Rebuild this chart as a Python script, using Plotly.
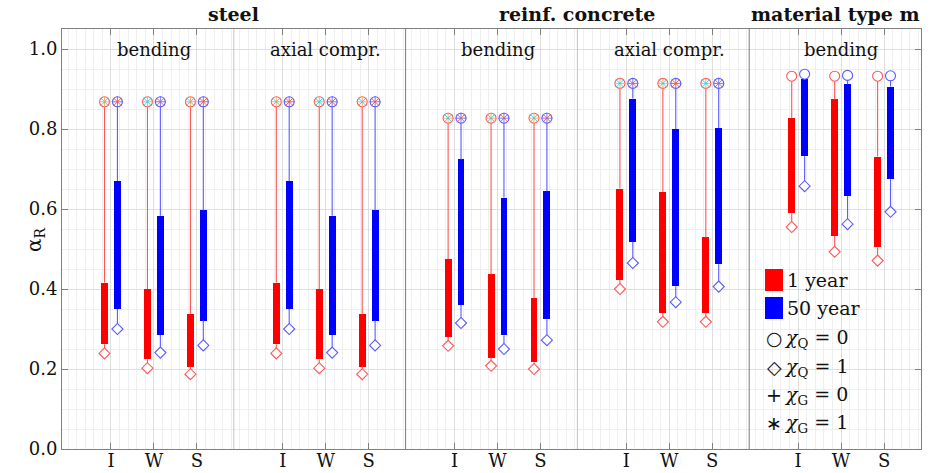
import plotly.graph_objects as go

# ---------------- data ----------------
categories = ["I", "W", "S"]
panels = ["bending", "axial compr.", "bending", "axial compr.", "bending"]
materials = ["steel", "reinf. concrete", "material type m"]
material_panels = [[0, 1], [2, 3], [4]]

# 1 year (red): chi_Q = 1 (diamond), box low, box high, chi_Q = 0 (circle)
r_q1 = [0.239, 0.202, 0.187, 0.239, 0.202, 0.187, 0.258, 0.208, 0.200,
        0.400, 0.318, 0.318, 0.555, 0.493, 0.471]
r_lo = [0.262, 0.224, 0.206, 0.262, 0.224, 0.206, 0.280, 0.228, 0.217,
        0.423, 0.340, 0.340, 0.589, 0.533, 0.504]
r_hi = [0.416, 0.400, 0.338, 0.416, 0.400, 0.338, 0.475, 0.437, 0.377,
        0.651, 0.643, 0.529, 0.827, 0.874, 0.731]
r_q0 = [0.868, 0.868, 0.868, 0.868, 0.868, 0.868, 0.827, 0.827, 0.827,
        0.914, 0.914, 0.914, 0.932, 0.932, 0.932]

# 50 year (blue)
b_q1 = [0.300, 0.241, 0.259, 0.300, 0.241, 0.259, 0.315, 0.250, 0.272,
        0.465, 0.367, 0.406, 0.657, 0.562, 0.593]
b_lo = [0.350, 0.285, 0.321, 0.350, 0.285, 0.321, 0.360, 0.284, 0.324,
        0.518, 0.407, 0.462, 0.732, 0.632, 0.674]
b_hi = [0.670, 0.583, 0.597, 0.670, 0.583, 0.597, 0.724, 0.628, 0.645,
        0.876, 0.800, 0.802, 0.924, 0.912, 0.906]
b_q0 = [0.868, 0.868, 0.868, 0.868, 0.868, 0.868, 0.827, 0.827, 0.827,
        0.914, 0.914, 0.914, 0.937, 0.934, 0.933]

# chi_G = 1 coincides with chi_Q = 0 in these panels
g1_panels = [0, 1, 2, 3]

# ---------------- layout helpers ----------------
GW = 4.0          # width of one panel in x units
XMIN = -1.14
XMAX = XMIN + GW * len(panels)
OFF = 0.15
BW = 0.16
FONT = "DejaVu Serif"

tick_x = [GW * p + c for p in range(len(panels)) for c in range(len(categories))]
tick_t = [categories[c] for p in range(len(panels)) for c in range(len(categories))]

RED = "#ff0000"
BLUE = "#0000ff"
RED_L = "rgb(255,85,85)"
BLUE_L = "rgb(90,90,255)"

fig = go.Figure()


def add_series(xs, q1, lo, hi, q0, col, col_l, name):
    fig.add_trace(go.Bar(x=xs, y=[h - l for h, l in zip(hi, lo)], base=lo,
                         width=BW, marker=dict(color=col, line=dict(width=0)),
                         name=name, showlegend=False))
    wx, wy = [], []
    for x, a, b, c, d in zip(xs, q1, lo, hi, q0):
        wx += [x, x, None, x, x, None]
        wy += [a, b, None, c, d, None]
    fig.add_trace(go.Scatter(x=wx, y=wy, mode="lines",
                             line=dict(color=col_l, width=1.1),
                             showlegend=False, hoverinfo="skip"))
    fig.add_trace(go.Scatter(x=xs, y=q1, mode="markers",
                             marker=dict(symbol="diamond", size=8.5, color="white",
                                         line=dict(color=col_l, width=1.1)),
                             showlegend=False))
    fig.add_trace(go.Scatter(x=xs, y=q0, mode="markers",
                             marker=dict(symbol="circle", size=10, color="white",
                                         line=dict(color=col_l, width=1.1)),
                             showlegend=False))
    ax = [x for i, x in enumerate(xs) if i // 3 in g1_panels]
    ay = [v for i, v in enumerate(q0) if i // 3 in g1_panels]
    for sym in ("cross-thin-open", "x-thin-open"):
        fig.add_trace(go.Scatter(x=ax, y=ay, mode="markers",
                                 marker=dict(symbol=sym, size=8,
                                             line=dict(color=col_l, width=0.9)),
                                 showlegend=False, hoverinfo="skip"))


add_series([x - OFF for x in tick_x], r_q1, r_lo, r_hi, r_q0, RED, RED_L, "1 year")
add_series([x + OFF for x in tick_x], b_q1, b_lo, b_hi, b_q0, BLUE, BLUE_L, "50 year")

# ---------------- separators ----------------
shapes = []
for p in range(1, len(panels)):
    xs = XMIN + GW * p
    major = any(p == mp[0] for mp in material_panels)
    shapes.append(dict(type="line", xref="x", yref="paper", x0=xs, x1=xs, y0=0, y1=1,
                       line=dict(color="#7a7a7a" if major else "#c4c4c4", width=1)))

# ---------------- annotations ----------------
ann = []
for p, label in enumerate(panels):
    ann.append(dict(x=GW * p + 1, y=1.0, xref="x", yref="y", text=label,
                    showarrow=False, font=dict(family=FONT, size=18, color="#111"),
                    yanchor="middle"))
for m, plist in zip(materials, material_panels):
    x0 = XMIN + GW * plist[0]
    x1 = XMIN + GW * (plist[-1] + 1)
    ann.append(dict(x=(x0 + x1) / 2, y=1, xref="x", yref="paper", yshift=15,
                    text="<b>" + m + "</b>", showarrow=False, yanchor="middle",
                    font=dict(family=FONT, size=19, color="#111")))

# y axis title
ann.append(dict(x=-0.049, y=0.5, xref="paper", yref="paper", text="α<sub>R</sub>",
                textangle=-90, showarrow=False,
                font=dict(family=FONT, size=20, color="#111")))

# ---------------- manual legend ----------------
PW, PH = 859.0, 420.0


def px(xp):
    return (xp - 62) / PW


def py(yp):
    return (449 - yp) / PH


leg_items = [("sq", RED, "1 year", 280), ("sq", BLUE, "50 year", 308)]
for kind, col, txt, yc in leg_items:
    shapes.append(dict(type="rect", xref="paper", yref="paper",
                       x0=px(765), x1=px(783), y0=py(yc + 11), y1=py(yc - 11),
                       fillcolor=col, line=dict(color=col, width=0)))
    ann.append(dict(x=px(785), y=py(yc), xref="paper", yref="paper", text=txt,
                    xanchor="left", yanchor="middle", showarrow=False,
                    font=dict(family=FONT, size=19, color="#111")))

sym_items = [("○", "<i>χ</i><sub>Q</sub> = 0", 338),
             ("◇", "<i>χ</i><sub>Q</sub> = 1", 367),
             ("+", "<i>χ</i><sub>G</sub> = 0", 395),
             ("∗", "<i>χ</i><sub>G</sub> = 1", 423)]
for sym, txt, yc in sym_items:
    ann.append(dict(x=px(774), y=py(yc), xref="paper", yref="paper", text=sym,
                    xanchor="center", yanchor="middle", showarrow=False,
                    font=dict(family="DejaVu Sans", size=19, color="#111")))
    ann.append(dict(x=px(782), y=py(yc), xref="paper", yref="paper", text=txt,
                    xanchor="left", yanchor="middle", showarrow=False,
                    font=dict(family=FONT, size=19, color="#111")))

# ---------------- layout ----------------
fig.update_layout(
    width=932, height=473,
    margin=dict(l=62, r=11, t=29, b=24),
    paper_bgcolor="white", plot_bgcolor="white",
    barmode="overlay", bargap=0,
    shapes=shapes, annotations=ann,
    showlegend=False,
    font=dict(family=FONT, size=18, color="#111"),
    xaxis=dict(range=[XMIN, XMAX], tickmode="array", tickvals=tick_x, ticktext=tick_t,
               automargin=False, ticklabelstandoff=-5,
               ticks="inside", ticklen=6, tickcolor="#808080",
               showline=True, linecolor="#808080", linewidth=1, mirror="ticks",
               showgrid=True, gridcolor="#dedede", gridwidth=1, zeroline=False,
               minor=dict(tick0=0, dtick=0.2, showgrid=True, gridcolor="#efefef",
                          ticks=""),
               tickfont=dict(family=FONT, size=18, color="#111")),
    yaxis=dict(range=[0, 1.05], tickmode="array",
               tickvals=[0, 0.2, 0.4, 0.6, 0.8, 1.0],
               ticktext=["0.0", "0.2", "0.4", "0.6", "0.8", "1.0"],
               automargin=False,
               ticks="inside", ticklen=6, tickcolor="#808080",
               showline=True, linecolor="#808080", linewidth=1, mirror="ticks",
               showgrid=True, gridcolor="#dedede", gridwidth=1, zeroline=False,
               minor=dict(tick0=0, dtick=0.05, showgrid=True, gridcolor="#efefef",
                          ticks=""),
               tickfont=dict(family=FONT, size=18, color="#111")),
)

fig.write_html("out.html")
